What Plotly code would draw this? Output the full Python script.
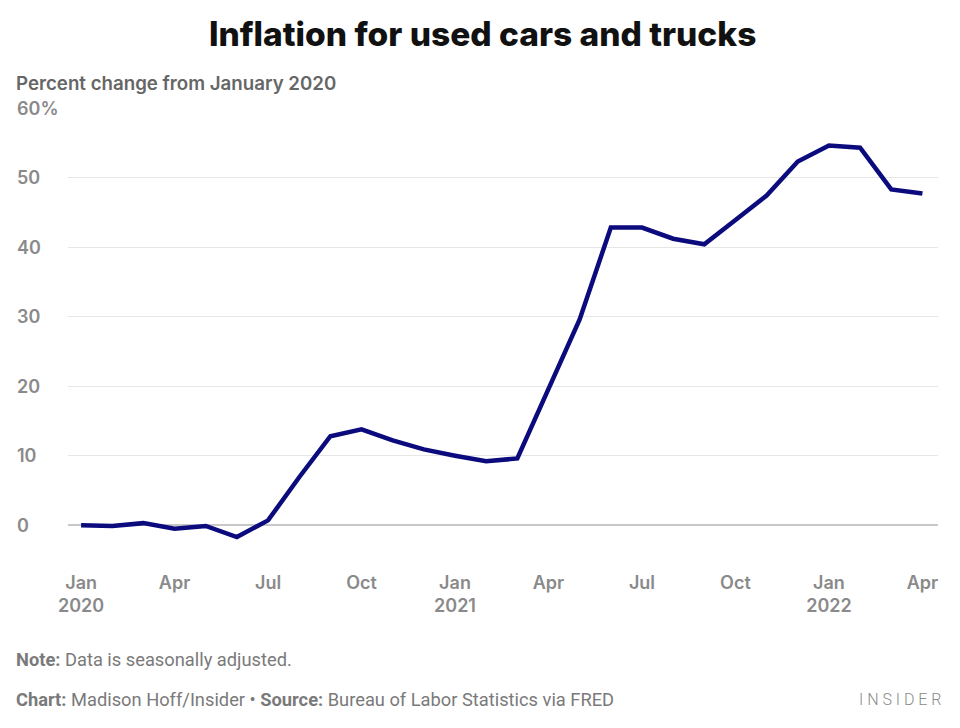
import plotly.graph_objects as go

months = ["Jan 2020","Feb 2020","Mar 2020","Apr 2020","May 2020","Jun 2020","Jul 2020","Aug 2020","Sep 2020","Oct 2020","Nov 2020","Dec 2020",
          "Jan 2021","Feb 2021","Mar 2021","Apr 2021","May 2021","Jun 2021","Jul 2021","Aug 2021","Sep 2021","Oct 2021","Nov 2021","Dec 2021",
          "Jan 2022","Feb 2022","Mar 2022","Apr 2022"]
values = [0.0, -0.1, 0.3, -0.5, -0.1, -1.7, 0.7, 6.9, 12.8, 13.8, 12.2, 10.9,
          10.0, 9.2, 9.6, 19.6, 29.6, 42.8, 42.8, 41.2, 40.4, 43.9, 47.4, 52.3,
          54.6, 54.3, 48.3, 47.7]
x_tick_pos = [0, 3, 6, 9, 12, 15, 18, 21, 24, 27]
x_tick_text = ["Jan<br>2020", "Apr", "Jul", "Oct", "Jan<br>2021", "Apr", "Jul", "Oct", "Jan<br>2022", "Apr"]
y_ticks = [0, 10, 20, 30, 40, 50, 60]
y_tick_text = ["0", "10", "20", "30", "40", "50", "60%"]

FONT = "Inter, Roboto, 'Noto Sans', sans-serif"
FOOT = "Roboto, 'Noto Sans', sans-serif"

W, H = 960, 728
L, R, T, B = 68, 22, 108, 168
plot_w = W - L - R
plot_h = H - T - B

def xpaper(px):
    return (px - L) / plot_w

def ypaper(py):
    return (H - B - py) / plot_h

idx = list(range(len(months)))
fig = go.Figure()
fig.add_trace(go.Scatter(x=idx, y=values, mode="lines",
                         line=dict(color="#0b0b7e", width=4.5),
                         hovertext=months, hoverinfo="text+y", showlegend=False))

for v, t in zip(y_ticks, y_tick_text):
    fig.add_annotation(x=xpaper(15), xref="paper", y=v, yref="y",
                       text=t, showarrow=False, xanchor="left", yanchor="middle",
                       font=dict(family=FONT, size=18, color="#8a8a8a", weight=600))

fig.update_layout(
    width=W, height=H,
    margin=dict(l=L, r=R, t=T, b=B),
    paper_bgcolor="white", plot_bgcolor="white",
    font=dict(family=FONT),
    xaxis=dict(range=[-0.42, 27.5], tickmode="array", tickvals=x_tick_pos, ticktext=x_tick_text,
               showgrid=False, zeroline=False, showline=False,
               ticks="outside", ticklen=6, tickcolor="rgba(0,0,0,0)",
               tickfont=dict(family=FONT, size=18, color="#8a8a8a", weight=600)),
    yaxis=dict(range=[-5, 60], tickmode="array", tickvals=y_ticks, showticklabels=False,
               showgrid=True, gridcolor="#e6e6e6", gridwidth=1,
               zeroline=True, zerolinecolor="#c8c8c8", zerolinewidth=1.5, showline=False),
)

fig.add_annotation(x=xpaper(W / 2 + 2), xref="paper", y=ypaper(34), yref="paper", yanchor="middle",
                   xanchor="center", text="Inflation for used cars and trucks", showarrow=False,
                   font=dict(family=FONT, size=33.5, color="#111111", weight=800))

fig.add_annotation(x=xpaper(14), xref="paper", y=ypaper(84), yref="paper",
                   xanchor="left", yanchor="middle", showarrow=False,
                   text="Percent change from January 2020",
                   font=dict(family=FONT, size=18.7, color="#666666", weight=600))

fig.add_annotation(x=xpaper(14), xref="paper", y=ypaper(659), yref="paper",
                   xanchor="left", yanchor="middle", showarrow=False,
                   text="<b>Note:</b> Data is seasonally adjusted.",
                   font=dict(family=FOOT, size=18.3, color="#7a7a7a"))
fig.add_annotation(x=xpaper(14), xref="paper", y=ypaper(699), yref="paper",
                   xanchor="left", yanchor="middle", showarrow=False,
                   text="<b>Chart:</b> Madison Hoff/Insider • <b>Source:</b> Bureau of Labor Statistics via FRED",
                   font=dict(family=FOOT, size=18.3, color="#7a7a7a"))
fig.add_annotation(x=xpaper(944), xref="paper", y=ypaper(699), yref="paper",
                   xanchor="right", yanchor="middle", showarrow=False,
                   text="I N S I D E R",
                   font=dict(family=FOOT, size=16, color="#8a8a8a", weight=300))

fig.write_html("out.html", config={"displayModeBar": False},
               post_script="document.body.style.margin='0';document.body.style.overflow='hidden';")
